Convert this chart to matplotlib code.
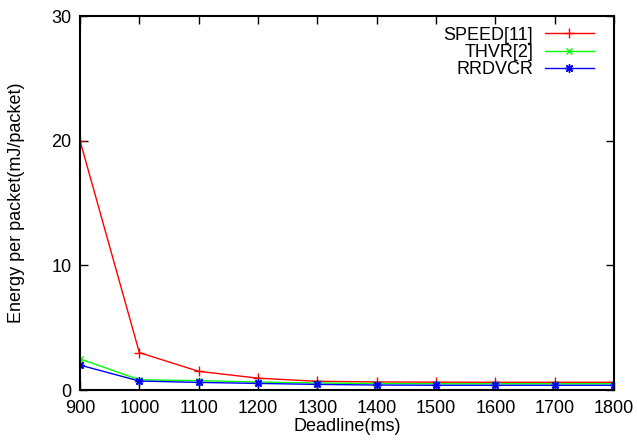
import matplotlib.pyplot as plt
import numpy as np

plt.rcParams['font.family'] = ['Liberation Sans', 'DejaVu Sans']

# Deadline values (ms)
deadlines = [900, 1000, 1100, 1200, 1300, 1400, 1500, 1600, 1700, 1800]

# Energy per packet (mJ/packet)
speed = [20.0, 3.0, 1.5, 0.95, 0.7, 0.65, 0.63, 0.62, 0.62, 0.62]
thvr = [2.5, 0.82, 0.75, 0.64, 0.56, 0.52, 0.5, 0.5, 0.5, 0.5]
rrdvcr = [2.0, 0.72, 0.61, 0.53, 0.45, 0.4, 0.38, 0.38, 0.38, 0.38]

fig = plt.figure(figsize=(6.37, 4.42), dpi=100)
ax = fig.add_axes([0.1256, 0.1176, 0.8383, 0.8462])

ax.plot(deadlines, speed, color='#ff0000', lw=1, marker='+', ms=7, mew=1, label='SPEED[11]')
ax.plot(deadlines, thvr, color='#00ff00', lw=1, marker='x', ms=5, mew=1, label='THVR[2]')
ax.plot(deadlines, rrdvcr, color='#0000ff', lw=1, marker=(8, 2, 0), ms=6, mew=1, label='RRDVCR')

ax.set_xlim(900, 1800)
ax.set_ylim(0, 30)
ax.set_xticks(np.arange(900, 1801, 100))
ax.set_yticks([0, 10, 20, 30])
ax.tick_params(direction='in', top=True, right=True, length=6, width=1, labelsize=13)
ax.tick_params(axis='x', pad=7)
ax.tick_params(axis='y', pad=6)
for s in ax.spines.values():
    s.set_linewidth(1.5)

ax.set_xlabel('Deadline(ms)', fontsize=13, labelpad=1)
ax.set_ylabel('Energy per packet(mJ/packet)', fontsize=13, labelpad=19)

leg = ax.legend(loc='upper right', bbox_to_anchor=(0.972, 0.986), frameon=False, markerfirst=False,
                fontsize=13, handlelength=2.7, labelspacing=0.02, borderaxespad=0.0,
                handletextpad=0.65, borderpad=0.3)
for t in leg.get_texts():
    t.set_ha('right')
leg._legend_box.align = 'right'

plt.savefig('out.png', dpi=100)
